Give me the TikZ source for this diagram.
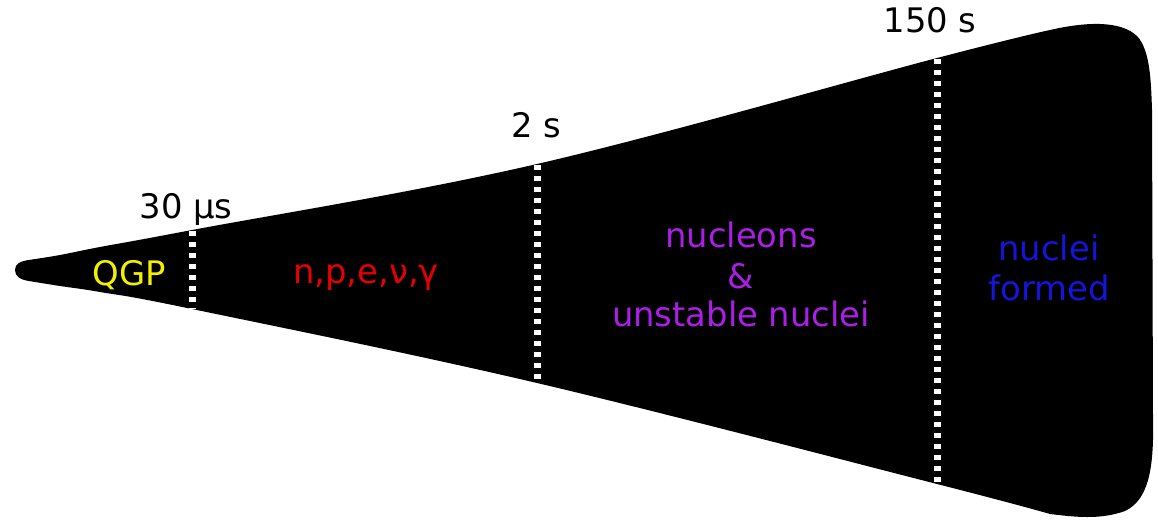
\documentclass[tikz,border=0pt]{standalone}
\usepackage{fontspec}
\setmainfont{DejaVu Sans}
\definecolor{qgpyellow}{RGB}{240,240,0}
\definecolor{npred}{RGB}{230,0,0}
\definecolor{nucpurple}{RGB}{170,30,230}
\definecolor{nucblue}{RGB}{20,20,220}
\begin{document}
\begin{tikzpicture}[x=1pt,y=-1pt,
  lbl/.style={font=\fontsize{33.8}{40}\selectfont, anchor=base, inner sep=0pt},
  sepline/.style={draw=white, line width=7pt, dash pattern=on 5pt off 6pt}]
\useasboundingbox (0,0) rectangle (1158,520);
% cone
\fill[black] (15,270) .. controls (15,263.5) and (20,261) .. (32,259.5)
  -- plot[smooth,tension=0.6] coordinates {(32,259.5) (60,255) (100,247) (192,230) (537,164) (937,58) (1050,30)}
  .. controls (1085,22) and (1120,20) .. (1137,36)
  .. controls (1150,50) and (1151,80) .. (1152,110)
  -- (1153,420)
  .. controls (1154,470) and (1148,500) .. (1125,511)
  .. controls (1100,520) and (1075,517) .. (1050,514)
  -- plot[smooth,tension=0.6] coordinates {(1050,514) (937,484) (537,383) (192,309) (100,292) (60,286) (32,281.5)}
  .. controls (20,280) and (15,276.5) .. (15,270) -- cycle;
% separator end points
\coordinate (t1) at (192,231);
\coordinate (b1) at (192,309);
\coordinate (t2) at (537,165);
\coordinate (b2) at (537,383);
\coordinate (t3) at (937,59);
\coordinate (b3) at (937,484);
\draw[sepline] (t1) -- (b1);
\draw[sepline] (t2) -- (b2);
\draw[sepline] (t3) -- (b3);
% time labels
\node[lbl] (l1) at (186,218) {30 µs};
\node[lbl] (l2) at (536,137) {2 s};
\node[lbl] (l3) at (930,32) {150 s};
% region labels
\node[lbl, text=qgpyellow] (qgp) at (129,285) {QGP};
\node[lbl, text=npred] (np) at (366,283) {n,p,e,ν,γ};
\node[lbl, text=nucpurple] (nuc1) at (741,247) {nucleons};
\node[lbl, text=nucpurple] (nuc2) at (741,288) {\&};
\node[lbl, text=nucpurple] (nuc3) at (741,326) {unstable nuclei};
\node[lbl, text=nucblue] (nf1) at (1049,260) {nuclei};
\node[lbl, text=nucblue] (nf2) at (1049,300) {formed};
\end{tikzpicture}
\end{document}
